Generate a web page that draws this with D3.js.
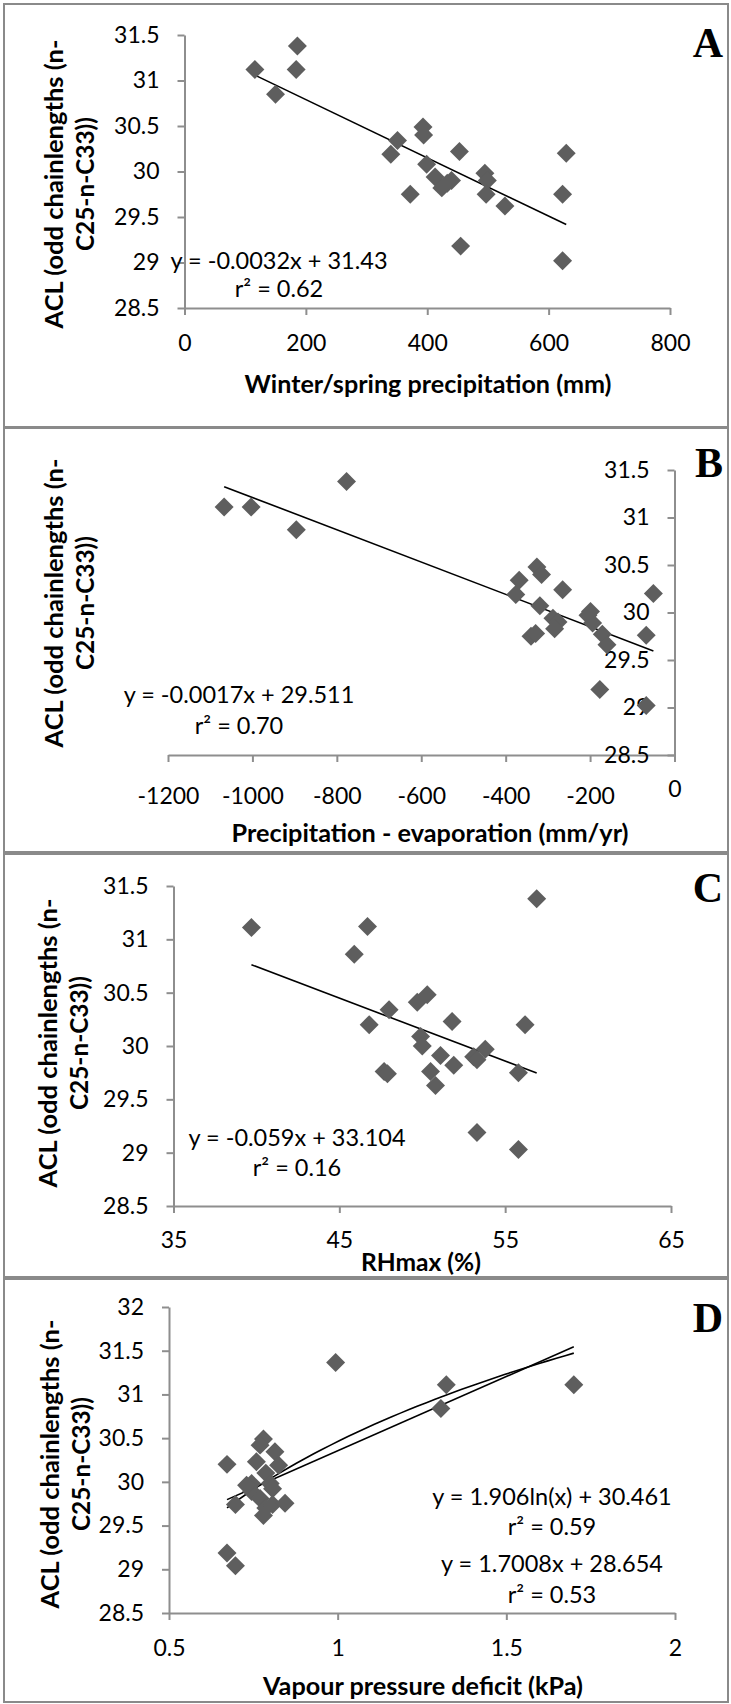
<!DOCTYPE html>
<html>
<head>
<meta charset="utf-8">
<script src="https://cdn.jsdelivr.net/npm/d3@7"></script>
<style>
  body { margin: 0; background: #fff; }
  text { font-family: Lato, "Open Sans", sans-serif; }
  .axis .domain, .axis .tick line { stroke: #8e8e8e; stroke-width: 2; }
  .axis text { font-size: 23px; fill: #000; font-family: Lato, sans-serif; }
</style>
</head>
<body>
<div id="chart"></div>
<script>
(function() {
  // tick values
  var aclTicks = [28.5, 29, 29.5, 30, 30.5, 31, 31.5];
  var aclTicksD = [28.5, 29, 29.5, 30, 30.5, 31, 31.5, 32];
  var precipTicks = [0, 200, 400, 600, 800];
  var peTicks = [-1200, -1000, -800, -600, -400, -200, 0];
  var rhTicks = [35, 45, 55, 65];
  var vpdTicks = [0.5, 1, 1.5, 2];

  // A: winter/spring precipitation
  var precipX = [116, 150, 184, 186, 340, 351, 372, 393, 394, 399, 413, 424, 440, 433, 453, 455, 495, 499, 497, 528, 623, 629, 623];
  var aclA = [31.12, 30.85, 31.12, 31.38, 30.19, 30.34, 29.75, 30.49, 30.40, 30.08, 29.94, 29.82, 29.90, 29.87, 30.22, 29.18, 29.98, 29.90, 29.75, 29.62, 29.75, 30.20, 29.02];

  // B: precipitation - evaporation
  var peX = [-1067, -1003, -896, -777, -376, -368, -326, -315, -319, -340, -329, -288, -276, -284, -265, -205, -199, -194, -171, -160, -177, -67, -50, -67];
  var aclB = [31.11, 31.11, 30.87, 31.38, 30.19, 30.34, 30.48, 30.40, 30.07, 29.75, 29.78, 29.94, 29.90, 29.83, 30.24, 29.97, 30.01, 29.89, 29.77, 29.66, 29.19, 29.76, 30.20, 29.02];

  // C: RHmax
  var rhX = [39.7, 46.7, 45.9, 56.9, 49.7, 50.3, 48.0, 46.8, 51.8, 56.2, 49.9, 50.0, 51.1, 51.9, 53.1, 53.8, 53.3, 47.7, 47.9, 50.5, 50.8, 55.8, 53.3, 55.8];
  var aclC = [31.11, 31.12, 30.86, 31.38, 30.41, 30.48, 30.34, 30.20, 30.23, 30.20, 30.09, 30.00, 29.91, 29.82, 29.90, 29.97, 29.87, 29.76, 29.74, 29.76, 29.63, 29.75, 29.19, 29.03];

  // D: vapour pressure deficit
  var vpdX = [0.672, 0.672, 0.697, 0.697, 0.994, 1.322, 1.306, 1.70, 0.78, 0.77, 0.814, 0.759, 0.825, 0.787, 0.745, 0.80, 0.745, 0.807, 0.77, 0.787, 0.78, 0.807, 0.844, 0.73];
  var aclD = [30.20, 29.185, 29.04, 29.74, 31.365, 31.11, 30.84, 31.11, 30.49, 30.42, 30.345, 30.23, 30.19, 30.10, 29.98, 29.98, 29.89, 29.92, 29.81, 29.70, 29.615, 29.74, 29.755, 29.96];

  // trendline coefficients (from the chart labels)
  var fitA = [{ type: "lin", a: -0.0032, b: 31.43 }];
  var fitB = [{ type: "lin", a: -0.0017, b: 29.511 }];
  var fitC = [{ type: "lin", a: -0.059, b: 33.104 }];
  var fitD = [{ type: "log", a: 1.906, b: 30.461 }, { type: "lin", a: 1.7008, b: 28.654 }];

  var eqA = ["y = -0.0032x + 31.43", "r\u00b2 = 0.62"];
  var eqB = ["y = -0.0017x + 29.511", "r\u00b2 = 0.70"];
  var eqC = ["y = -0.059x + 33.104", "r\u00b2 = 0.16"];
  var eqD = ["y = 1.906ln(x) + 30.461", "r\u00b2 = 0.59", "y = 1.7008x + 28.654", "r\u00b2 = 0.53"];

  var yTitle = ["ACL (odd chainlengths (n-", "C25-n-C33))"];
  var yTitleLen = [289, 134];

  var panels = [
    { letter: "A", top: 4, bottom: 427, letterY: 57,
      xs: precipX, ys: aclA, xTicks: precipTicks, yTicks: aclTicks,
      xr: [184.5, 670], yr: [308, 35], yAt: "left", xPad: 20,
      xTitle: "Winter/spring precipitation (mm)", xTitleLen: 367, xTitleX: 428, xTitleY: 393,
      yTitleX: 63, yTitleY: 184, fits: fitA, eq: eqA, eqX: 279, eqY: [269, 297] },
    { letter: "B", top: 428, bottom: 852, letterY: 477,
      xs: peX, ys: aclB, xTicks: peTicks, yTicks: aclTicks,
      xr: [168, 674.5], yr: [755, 470], yAt: "right", xPad: 26,
      xTitle: "Precipitation - evaporation (mm/yr)", xTitleLen: 397, xTitleX: 430, xTitleY: 842,
      yTitleX: 63, yTitleY: 603, fits: fitB, eq: eqB, eqX: 239, eqY: [703, 734] },
    { letter: "C", top: 854, bottom: 1277, letterY: 902,
      xs: rhX, ys: aclC, xTicks: rhTicks, yTicks: aclTicks,
      xr: [173.5, 671], yr: [1206, 886], yAt: "left", xPad: 19,
      xTitle: "RHmax (%)", xTitleLen: 120, xTitleX: 421, xTitleY: 1271,
      yTitleX: 57, yTitleY: 1043, fits: fitC, eq: eqC, eqX: 297, eqY: [1146, 1176] },
    { letter: "D", top: 1279, bottom: 1702, letterY: 1332,
      xs: vpdX, ys: aclD, xTicks: vpdTicks, yTicks: aclTicksD,
      xr: [169, 675], yr: [1613, 1307], yAt: "left", xPad: 20,
      xTitle: "Vapour pressure deficit (kPa)", xTitleLen: 320, xTitleX: 423, xTitleY: 1695,
      yTitleX: 59, yTitleY: 1464, fits: fitD, eq: eqD, eqX: 552, eqY: [1505, 1535, 1572, 1603] }
  ];

  var svg = d3.select("#chart")
    .append("svg")
    .attr("width", 731)
    .attr("height", 1704);

  var fmt = function(d) { return String(d); };

  panels.forEach(function(p) {
    var g = svg.append("g");

    // panel frame
    g.append("rect")
      .attr("x", 4).attr("y", p.top)
      .attr("width", 724).attr("height", p.bottom - p.top)
      .attr("fill", "#fff")
      .attr("stroke", "#8a8a8a")
      .attr("stroke-width", 2);

    var xDom = d3.extent(p.xTicks), yDom = d3.extent(p.yTicks);
    var x = d3.scaleLinear().domain(xDom).range(p.xr);
    var y = d3.scaleLinear().domain(yDom).range(p.yr);

    var xAxis = d3.axisBottom(x).tickValues(p.xTicks).tickFormat(fmt)
      .tickSize(7).tickSizeOuter(0).tickPadding(p.xPad);
    var xg = g.append("g")
      .attr("class", "axis x-axis")
      .attr("transform", "translate(0," + y(yDom[0]) + ")")
      .call(xAxis);

    var yX = p.yAt === "right" ? x(0) : x(xDom[0]);
    var yAxis = d3.axisLeft(y).tickValues(p.yTicks).tickFormat(fmt)
      .tickSize(7).tickSizeOuter(0).tickPadding(18);
    g.append("g")
      .attr("class", "axis y-axis")
      .attr("transform", "translate(" + yX + ",0)")
      .call(yAxis);

    // the 0 label on panel B sits a bit higher
    if (p.yAt === "right") {
      xg.selectAll(".tick").filter(function(d) { return d === 0; })
        .select("text").attr("y", p.xPad);
    }

    // trendlines
    var ext = d3.extent(p.xs);
    p.fits.forEach(function(f) {
      var line = d3.line()
        .x(function(d) { return x(d); })
        .y(function(d) { return y(f.type === "log" ? f.a * Math.log(d) + f.b : f.a * d + f.b); });
      var pts = f.type === "log" ? d3.range(0, 41).map(function(i) { return ext[0] + (ext[1] - ext[0]) * i / 40; }) : ext;
      g.append("path")
        .attr("d", line(pts))
        .attr("fill", "none")
        .attr("stroke", "#000")
        .attr("stroke-width", 1.6);
    });

    // points
    var sym = d3.symbol().type(d3.symbolSquare).size(180);
    g.selectAll(".pt")
      .data(p.xs.map(function(v, i) { return [v, p.ys[i]]; }))
      .enter().append("path")
      .attr("class", "pt")
      .attr("d", sym)
      .attr("transform", function(d) {
        return "translate(" + x(d[0]) + "," + y(d[1]) + ") rotate(45)";
      })
      .attr("fill", "#5e5e5e");

    // equation labels
    g.selectAll(".eq")
      .data(p.eq)
      .enter().append("text")
      .attr("class", "eq")
      .attr("x", p.eqX)
      .attr("y", function(d, i) { return p.eqY[i]; })
      .attr("text-anchor", "middle")
      .style("font-size", "23.5px")
      .text(function(d) { return d; });

    // axis titles
    g.append("text")
      .attr("x", p.xTitleX)
      .attr("y", p.xTitleY)
      .attr("text-anchor", "middle")
      .attr("textLength", p.xTitleLen)
      .attr("lengthAdjust", "spacingAndGlyphs")
      .style("font-size", "25px")
      .style("font-weight", "bold")
      .text(p.xTitle);

    g.selectAll(".ytitle")
      .data(yTitle)
      .enter().append("text")
      .attr("class", "ytitle")
      .attr("text-anchor", "middle")
      .attr("textLength", function(d, i) { return yTitleLen[i]; })
      .attr("lengthAdjust", "spacingAndGlyphs")
      .attr("transform", function(d, i) {
        return "translate(" + (p.yTitleX + i * 31) + "," + p.yTitleY + ") rotate(-90)";
      })
      .style("font-size", "25px")
      .style("font-weight", "bold")
      .text(function(d) { return d; });

    // panel letter
    g.append("text")
      .attr("x", 723)
      .attr("y", p.letterY)
      .attr("text-anchor", "end")
      .style("font-family", "'Liberation Serif', 'Times New Roman', serif")
      .style("font-size", "42px")
      .style("font-weight", "bold")
      .text(p.letter);
  });
})();
</script>
</body>
</html>
